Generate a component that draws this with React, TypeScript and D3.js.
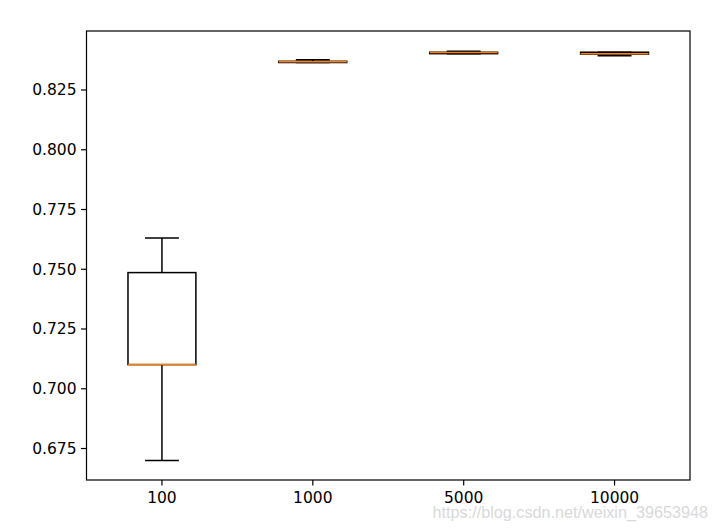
import * as d3 from 'd3';

// sample sizes on x, accuracy summaries on y
const categories = ['100', '1000', '5000', '10000'];
const whiskerHigh = [0.7631, 0.8377, 0.8412, 0.8408];
const q3 = [0.7486, 0.837, 0.8408, 0.8408];
const medians = [0.7101, 0.8368, 0.8407, 0.8402];
const q1 = [0.7101, 0.8365, 0.8402, 0.84];
const whiskerLow = [0.67, 0.8365, 0.8402, 0.8393];
const yTicks = [0.675, 0.7, 0.725, 0.75, 0.775, 0.8, 0.825];

const width = 717;
const height = 530;
const margin = { top: 31, right: 27, bottom: 50, left: 86.5 };
const font = "'DejaVu Sans', sans-serif";

const App = () => {
  const x = d3
    .scaleLinear()
    .domain([0.5, categories.length + 0.5])
    .range([margin.left, width - margin.right]);
  const y = d3
    .scaleLinear()
    .domain([0.66183, 0.84968])
    .range([height - margin.bottom, margin.top]);

  const boxW = x(0.45) - x(0);
  const capW = boxW / 2;
  const lw = 1.5;

  const boxes = categories.map((c, i) => {
    const cx = x(i + 1);
    return (
      <g key={c}>
        <line x1={cx} x2={cx} y1={y(q3[i])} y2={y(whiskerHigh[i])} stroke='#000' strokeWidth={lw} />
        <line x1={cx} x2={cx} y1={y(q1[i])} y2={y(whiskerLow[i])} stroke='#000' strokeWidth={lw} />
        <line x1={cx - capW / 2} x2={cx + capW / 2} y1={y(whiskerHigh[i])} y2={y(whiskerHigh[i])} stroke='#000' strokeWidth={lw} />
        <line x1={cx - capW / 2} x2={cx + capW / 2} y1={y(whiskerLow[i])} y2={y(whiskerLow[i])} stroke='#000' strokeWidth={lw} />
        <rect
          x={cx - boxW / 2}
          y={y(q3[i])}
          width={boxW}
          height={Math.max(y(q1[i]) - y(q3[i]), 0.01)}
          fill='none'
          stroke='#000'
          strokeWidth={lw}
        />
        <line x1={cx - boxW / 2} x2={cx + boxW / 2} y1={y(medians[i])} y2={y(medians[i])} stroke='#ff7f0e' strokeWidth={lw} />
      </g>
    );
  });

  const bottom = height - margin.bottom;

  return (
    <svg
      width={width}
      height={height}
      style={{ position: 'absolute', left: 0, top: 0, background: '#fff' }}
    >
      {boxes}
      <rect
        x={margin.left}
        y={margin.top}
        width={width - margin.left - margin.right}
        height={bottom - margin.top}
        fill='none'
        stroke='#000'
        strokeWidth={1.2}
      />
      {yTicks.map((t) => (
        <g key={t} transform={`translate(0, ${y(t)})`}>
          <line x1={margin.left - 5.5} x2={margin.left} stroke='#000' strokeWidth={1.2} />
          <text
            x={margin.left - 10}
            dy='0.35em'
            textAnchor='end'
            fontFamily={font}
            fontSize={15.5}
            fill='#000'
          >
            {d3.format('.3f')(t)}
          </text>
        </g>
      ))}
      {categories.map((c, i) => (
        <g key={c} transform={`translate(${x(i + 1)}, ${bottom})`}>
          <line y1={0} y2={5.5} stroke='#000' strokeWidth={1.2} />
          <text y={23} textAnchor='middle' fontFamily={font} fontSize={15.5} fill='#000'>
            {c}
          </text>
        </g>
      ))}
      <text
        x={708}
        y={518}
        textAnchor='end'
        fontFamily="'Liberation Sans Narrow', 'Liberation Sans', sans-serif"
        fontSize={16.2}
        fill='#d9d9d9'
      >
        https://blog.csdn.net/weixin_39653948
      </text>
    </svg>
  );
};

export default App;
